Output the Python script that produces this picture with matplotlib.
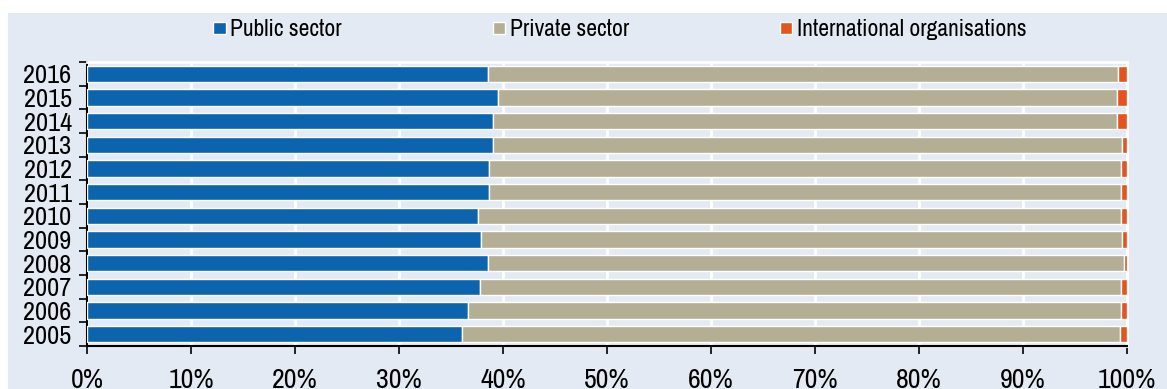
import matplotlib
matplotlib.use("Agg")
import matplotlib.pyplot as plt
from matplotlib import font_manager
from matplotlib.patches import Rectangle
from matplotlib.ticker import MultipleLocator, FixedLocator, PercentFormatter
import numpy as np

years = ["2005", "2006", "2007", "2008", "2009", "2010", "2011", "2012", "2013", "2014", "2015", "2016"]
public = [36.1, 36.6, 37.8, 38.6, 37.9, 37.6, 38.7, 38.7, 39.0, 39.0, 39.5, 38.6]
international = [0.7, 0.6, 0.6, 0.3, 0.5, 0.6, 0.6, 0.6, 0.5, 1.0, 1.0, 0.9]
private = [round(100 - p - i, 1) for p, i in zip(public, international)]
series_names = ["Public sector", "Private sector", "International organisations"]
colors = ["#0b64ad", "#b3ae94", "#e3541f"]
bg = "#e4eaf3"

candidates = ["Liberation Sans Narrow", "Archivo Narrow", "Arimo", "Liberation Sans", "DejaVu Sans"]
fams = []
for c in candidates:
    try:
        font_manager.findfont(font_manager.FontProperties(family=c), fallback_to_default=False)
        fams.append(c)
    except Exception:
        pass
if "DejaVu Sans" not in fams:
    fams.append("DejaVu Sans")
plt.rcParams['font.family'] = fams

W, H = 1167, 389
fig = plt.figure(figsize=(W / 100, H / 100), dpi=100)
fig.patch.set_facecolor("white")
fig.patches.append(Rectangle((8 / W, 0), 1 - 8 / W, (H - 13) / H, transform=fig.transFigure,
                             facecolor=bg, edgecolor="none", zorder=-10))

ax = fig.add_axes([87 / W, (H - 346) / H, (1127 - 87) / W, (346 - 62) / H])
ax.set_facecolor(bg)

y = np.arange(len(years))
left = np.zeros(len(years))
for vals, name, c in zip([public, private, international], series_names, colors):
    ax.barh(y, vals, left=left, height=0.68, color=c, edgecolor="white", linewidth=1.0, label=name, zorder=3)
    left = left + np.array(vals)

ax.set_xlim(0, 100)
ax.set_ylim(-0.5, len(years) - 0.5)
ax.xaxis.set_major_locator(MultipleLocator(10))
ax.xaxis.set_major_formatter(PercentFormatter(decimals=0))
ax.grid(axis="x", color="white", linewidth=2, zorder=0)
ax.set_yticks(y)
ax.set_yticklabels(years)
ax.yaxis.set_minor_locator(FixedLocator(np.arange(-0.5, len(years), 1.0)))
ax.tick_params(axis="y", which="major", length=0, pad=11, labelsize=19)
ax.tick_params(axis="y", which="minor", length=6, width=1.2, color="black")
ax.tick_params(axis="x", which="major", length=6, width=1.2, pad=10, labelsize=20)

for s in ["top", "right"]:
    ax.spines[s].set_color("white")
    ax.spines[s].set_linewidth(2)
for s in ["left", "bottom"]:
    ax.spines[s].set_color("black")
    ax.spines[s].set_linewidth(1.5)

leg = fig.legend(loc="center", bbox_to_anchor=(620 / W, (H - 30) / H), ncol=3, frameon=False,
                 fontsize=17, handlelength=0.51, handleheight=0.405, handletextpad=0.2,
                 columnspacing=6.4, borderpad=0, borderaxespad=0)

fig.savefig("out.png", dpi=100, facecolor=fig.get_facecolor())
